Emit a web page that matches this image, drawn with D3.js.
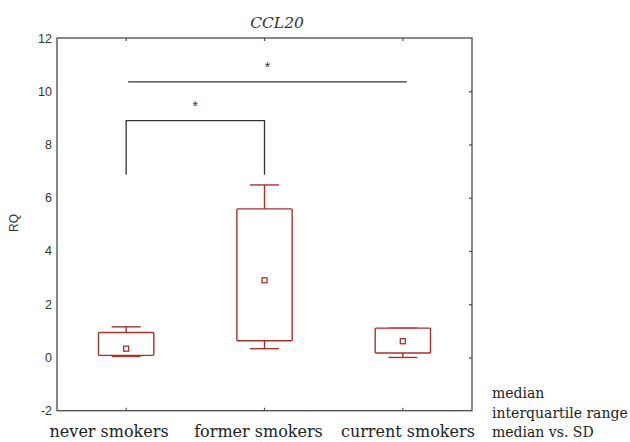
<!DOCTYPE html>
<html>
<head>
<meta charset="utf-8">
<script src="https://cdn.jsdelivr.net/npm/d3@7"></script>
<style>
  html, body { margin: 0; padding: 0; background: #fff; }
  svg { display: block; }
</style>
</head>
<body>
<svg id="chart" width="630" height="442"></svg>
<script>
// Group summaries of CCL20 RQ by smoking status
const categories = ["never smokers", "former smokers", "current smokers"];
const medians    = [0.33, 2.90, 0.61];
const q1         = [0.08, 0.63, 0.17];
const q3         = [0.94, 5.58, 1.10];
const whiskerLow = [0.04, 0.33, 0.00];
const whiskerHigh= [1.15, 6.48, 1.10];
const yTicks     = [-2, 0, 2, 4, 6, 8, 10, 12];
const legendLines = ["median", "interquartile range", "median vs. SD"];

// Significance markers: bracket between two groups, and a plain line
const bracket = { from: 0, to: 1, low: 6.86, high: 8.9, label: "*" };
const spanLine = { from: 0, to: 2, level: 10.35, label: "*" };

const svg = d3.select("#chart");
const frame = { left: 57, right: 472, top: 38, bottom: 410.7 };
const boxColor = "#a8312f";
const axisColor = "#4a4a4a";

const x = d3.scaleBand().domain(categories).range([frame.left, frame.right]).padding(0);
const y = d3.scaleLinear().domain([-2, 12]).range([frame.bottom, frame.top]);
const cx = c => x(c) + x.bandwidth() / 2;
const mid = (frame.left + frame.right) / 2;

// Frame
svg.append("rect")
  .attr("x", frame.left).attr("y", frame.top)
  .attr("width", frame.right - frame.left).attr("height", frame.bottom - frame.top)
  .attr("fill", "none").attr("stroke", axisColor).attr("stroke-width", 1.3);

// Left axis labels (no tick marks)
const yAxis = d3.axisLeft(y).tickValues(yTicks).tickSize(0).tickPadding(5).tickFormat(d => String(d));
const gy = svg.append("g").attr("transform", `translate(${frame.left},0)`).call(yAxis);
gy.select(".domain").remove();
gy.selectAll("text").attr("font-family", "Liberation Sans, Arial, sans-serif")
  .attr("font-size", 12.5).attr("fill", "#333");

// Right axis inner ticks
const gyr = svg.append("g").attr("transform", `translate(${frame.right},0)`)
  .call(d3.axisLeft(y).tickValues(yTicks.slice(1, -1)).tickSize(3).tickFormat(""));
gyr.select(".domain").remove();
gyr.selectAll("line").attr("stroke", axisColor).attr("stroke-width", 1.2);

// Bottom inner ticks
const gx = svg.append("g").attr("transform", `translate(0,${frame.bottom})`)
  .call(d3.axisBottom(x).tickSize(-3).tickFormat(""));
gx.select(".domain").remove();
gx.selectAll("line").attr("stroke", axisColor).attr("stroke-width", 1.2);

// Category labels, spread slightly wider than the band centres
svg.append("g").selectAll("text").data(categories).join("text")
  .attr("x", d => mid - 6 + (cx(d) - mid) * 1.08)
  .attr("y", 437)
  .attr("text-anchor", "middle")
  .attr("font-family", "DejaVu Serif, serif").attr("font-size", 16).attr("fill", "#222")
  .text(d => d);

// Top inner ticks
const gxt = svg.append("g").attr("transform", `translate(0,${frame.top})`)
  .call(d3.axisTop(x).tickSize(-3).tickFormat(""));
gxt.select(".domain").remove();
gxt.selectAll("line").attr("stroke", axisColor).attr("stroke-width", 1.2);

// Title
svg.append("text").attr("x", 277).attr("y", 28).attr("text-anchor", "middle")
  .attr("font-family", "DejaVu Serif, serif").attr("font-style", "italic")
  .attr("font-size", 15.5).attr("fill", "#333").text("CCL20");

// Y axis title
svg.append("text").attr("transform", "translate(18,223) rotate(-90)")
  .attr("text-anchor", "middle").attr("font-family", "Liberation Sans, Arial, sans-serif")
  .attr("font-size", 12).attr("fill", "#333").text("RQ");

// Box plots
const boxW = x.bandwidth() * 0.4;
const capW = x.bandwidth() * 0.21;
const groups = svg.append("g").selectAll("g").data(categories).join("g");

groups.append("line")
  .attr("x1", cx).attr("x2", cx)
  .attr("y1", (d, i) => y(q3[i])).attr("y2", (d, i) => y(whiskerHigh[i]))
  .attr("stroke", boxColor).attr("stroke-width", 1.4);
groups.append("line")
  .attr("x1", cx).attr("x2", cx)
  .attr("y1", (d, i) => y(q1[i])).attr("y2", (d, i) => y(whiskerLow[i]))
  .attr("stroke", boxColor).attr("stroke-width", 1.4);
groups.append("line")
  .attr("x1", d => cx(d) - capW / 2).attr("x2", d => cx(d) + capW / 2)
  .attr("y1", (d, i) => y(whiskerHigh[i])).attr("y2", (d, i) => y(whiskerHigh[i]))
  .attr("stroke", boxColor).attr("stroke-width", 1.4);
groups.append("line")
  .attr("x1", d => cx(d) - capW / 2).attr("x2", d => cx(d) + capW / 2)
  .attr("y1", (d, i) => y(whiskerLow[i])).attr("y2", (d, i) => y(whiskerLow[i]))
  .attr("stroke", boxColor).attr("stroke-width", 1.4);
groups.append("rect")
  .attr("x", d => cx(d) - boxW / 2).attr("width", boxW)
  .attr("y", (d, i) => y(q3[i])).attr("height", (d, i) => y(q1[i]) - y(q3[i]))
  .attr("fill", "#fff").attr("stroke", boxColor).attr("stroke-width", 1.4).attr("rx", 1);
groups.append("rect")
  .attr("x", d => cx(d) - 2.5).attr("width", 5)
  .attr("y", (d, i) => y(medians[i]) - 2.5).attr("height", 5)
  .attr("fill", "#fff").attr("stroke", boxColor).attr("stroke-width", 1.3);

// Significance bracket
const sig = svg.append("g").attr("stroke", "#333").attr("stroke-width", 1.3).attr("fill", "none");
const bx1 = cx(categories[bracket.from]), bx2 = cx(categories[bracket.to]);
sig.append("path")
  .attr("d", `M${bx1},${y(bracket.low)}V${y(bracket.high)}H${bx2}V${y(bracket.low)}`);
const lx1 = cx(categories[spanLine.from]) + 2, lx2 = cx(categories[spanLine.to]) + 4;
sig.append("line").attr("x1", lx1).attr("x2", lx2)
  .attr("y1", y(spanLine.level)).attr("y2", y(spanLine.level));

svg.append("text").attr("x", (bx1 + bx2) / 2).attr("y", y(bracket.high) - 10)
  .attr("text-anchor", "middle").attr("font-family", "Liberation Sans, Arial, sans-serif")
  .attr("font-size", 14).attr("fill", "#333").text(bracket.label);
svg.append("text").attr("x", (lx1 + lx2) / 2).attr("y", y(spanLine.level) - 10)
  .attr("text-anchor", "middle").attr("font-family", "Liberation Sans, Arial, sans-serif")
  .attr("font-size", 14).attr("fill", "#333").text(spanLine.label);

// Legend text
svg.append("g").selectAll("text").data(legendLines).join("text")
  .attr("x", 492).attr("y", (d, i) => 398 + i * 19.5)
  .attr("font-family", "DejaVu Serif, serif").attr("font-size", 14).attr("fill", "#222")
  .text(d => d);
</script>
</body>
</html>
